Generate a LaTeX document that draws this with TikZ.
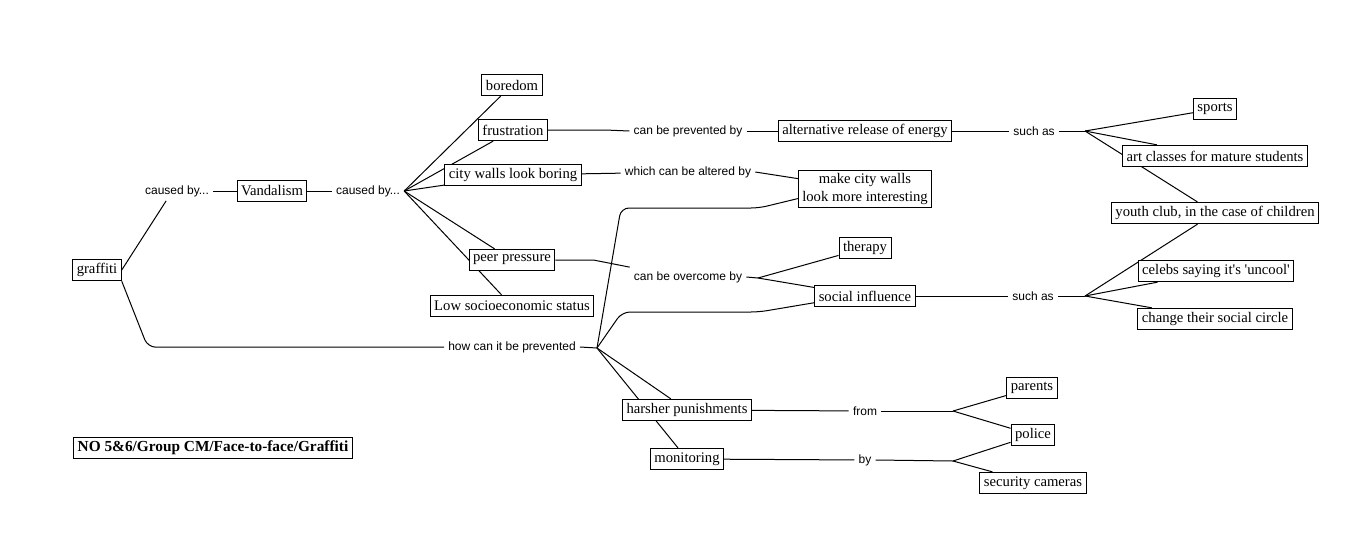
\documentclass[tikz,border=0pt]{standalone}
\usepackage{fontspec}
\setmainfont{Liberation Serif}
\setsansfont{Liberation Sans}
\usetikzlibrary{backgrounds,calc}

\begin{document}
\begin{tikzpicture}[x=0.75pt, y=-0.75pt,
    concept/.style={draw, fill=white, line width=0.75pt, inner xsep=3pt, inner ysep=2pt, minimum height=16pt, font=\fontsize{11}{14}\selectfont},
    link/.style={inner sep=3pt, font=\sffamily\fontsize{9}{11}\selectfont},
    conn/.style={line width=0.75pt, black},
]
\useasboundingbox (0,0) rectangle (1360,536);

% Causes
\node[concept] (graf) at (97,270) {graffiti};
\node[link] (cb1) at (177,191) {caused by...};
\node[concept] (vand) at (272,191) {Vandalism};
\node[link] (cb2) at (368,191) {caused by...};
\node[concept] (bore) at (512,85) {boredom};
\node[concept] (frus) at (513,130) {frustration};
\node[concept] (walls) at (513,175) {city walls look boring};
\node[concept] (peer) at (512,260) {peer pressure};
\node[concept] (lowses) at (512,306) {Low socioeconomic status};

% Remedies
\node[link] (cbp) at (688,131) {can be prevented by};
\node[concept] (alt) at (865,131) {alternative release of energy};
\node[link] (such1) at (1034,131) {such as};
\node[concept] (sports) at (1215,109) {sports};
\node[concept] (art) at (1215,156) {art classes for mature students};
\node[concept] (youth) at (1215,213) {youth club, in the case of children};
\node[link] (wca) at (688,172) {which can be altered by};
\node[concept, align=center] (mcw) at (865,189) {make city walls\\look more interesting};
\node[link] (cob) at (688,277) {can be overcome by};
\node[concept] (ther) at (865,248) {therapy};
\node[concept] (soc) at (865,296) {social influence};
\node[link] (such2) at (1033,296) {such as};
\node[concept] (celeb) at (1216,271) {celebs saying it\textquotesingle s \textquotesingle uncool\textquotesingle};
\node[concept] (circle) at (1215,319) {change their social circle};

% Prevention
\node[link] (howp) at (512,347) {how can it be prevented};
\node[concept] (harsh) at (687,410) {harsher punishments};
\node[concept] (monit) at (687,459) {monitoring};
\node[link] (from) at (865,411) {from};
\node[link] (by) at (865,460) {by};
\node[concept] (par) at (1032,388) {parents};
\node[concept] (pol) at (1033,435) {police};
\node[concept] (cam) at (1033,483) {security cameras};

\node[concept, font=\bfseries\fontsize{11.5}{14}\selectfont] (title) at (213,448) {NO 5\&6/Group CM/Face-to-face/Graffiti};

% Fan points
\coordinate (such1f) at (1085,131);
\coordinate (such2f) at (1085,296);
\coordinate (cobf) at (758,278);
\coordinate (howpf) at (597,348);
\coordinate (fromf) at (953,411);
\coordinate (byf) at (953,461);

% Links
\begin{scope}[on background layer]
\draw[conn] (graf.east) -- ($(cb1.south)!0.3!(cb1.south west)$);
\draw[conn, rounded corners=6pt] (graf.south east) -- ++(26,66) -- (howp.west);
\draw[conn] (cb1) -- (vand); \draw[conn] (vand) -- (cb2);
\foreach \n in {bore,frus,walls,peer,lowses} \draw[conn] (cb2.east) -- (\n);

\draw[conn] (frus.east) -- ++(57,0) -- (cbp.west);
\draw[conn] (cbp) -- (alt); \draw[conn] (alt) -- (such1);
\draw[conn] (such1.east) -- (such1f);
\foreach \n in {sports,art,youth} \draw[conn] (such1f) -- (\n);
\draw[conn] (walls) -- (wca); \draw[conn] (wca.east) -- (mcw);

\draw[conn] (peer.east) -- ++(38,0) -- (cob.north west);
\draw[conn] (cob.east) -- (cobf);
\draw[conn] (cobf) -- (ther); \draw[conn] (cobf) -- (soc);
\draw[conn] (soc) -- (such2); \draw[conn] (such2.east) -- (such2f);
\foreach \n in {youth,celeb,circle} \draw[conn] (such2f) -- (\n);

\draw[conn] (howp.east) -- (howpf);
\draw[conn, rounded corners=6pt] (howpf) -- ++(24,-140) -- ++(138,0) -- ($(mcw.west)!0.5!(mcw.south west)$);
\draw[conn, rounded corners=6pt] (howpf) -- ++(25,-36) -- ++(137,0) -- ($(soc.west)!0.6!(soc.south west)$);
\draw[conn] (howpf) -- (harsh); \draw[conn] (howpf) -- (monit);
\draw[conn] (harsh) -- (from); \draw[conn] (from.east) -- (fromf);
\draw[conn] (fromf) -- (par); \draw[conn] (fromf) -- (pol);
\draw[conn] (monit) -- (by); \draw[conn] (by.east) -- (byf);
\draw[conn] (byf) -- (pol); \draw[conn] (byf) -- (cam);
\end{scope}
\end{tikzpicture}
\end{document}
